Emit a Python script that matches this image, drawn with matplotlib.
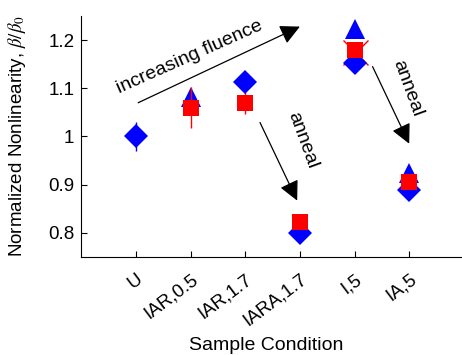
import numpy as np
import matplotlib
matplotlib.use('Agg')
import matplotlib.pyplot as plt

plt.rcParams['font.family'] = ['Liberation Sans', 'DejaVu Sans']
plt.rcParams['mathtext.fontset'] = 'stix'

# sample conditions along x
conditions = ['U', 'IAR,0.5', 'IAR,1.7', 'IARA,1.7', 'I,5', 'IA,5']
xpos = np.arange(1, len(conditions) + 1)

# blue diamonds (one per condition)
diamond_y = [1.0, np.nan, 1.114, 0.80, 1.152, 0.89]
diamond_err = [0.031, 0, 0, 0, 0, 0]

# blue triangles
tri_x = [2, 5, 6]
tri_y = [1.082, 1.222, 0.925]

# red squares with error bars
sq_x = [2, 3, 4, 5, 6]
sq_y = [1.06, 1.07, 0.823, 1.179, 0.905]
sq_lo = [0.042, 0.024, 0, 0.022, 0.018]
sq_hi = [0.042, 0.030, 0, 0.012, 0]

# red cross at I,5
x_x = [5]
x_y = [1.175]

fig = plt.figure(figsize=(4.62, 3.55), dpi=100)
ax = fig.add_axes([0.176, 0.276, 0.828, 0.679])

ax.errorbar(xpos, diamond_y, yerr=diamond_err, fmt='D', color='blue', ms=12,
            capsize=3, elinewidth=1, mew=0)
ax.plot(tri_x, tri_y, '^', color='blue', ms=14, mew=0)
ax.errorbar(sq_x, sq_y, yerr=[sq_lo, sq_hi], fmt='s', color='red', ms=11,
            capsize=3, elinewidth=1, mew=0)
ax.plot(x_x, x_y, 'x', color='red', ms=18, mew=1)

# annotation arrows
arrow_kw = dict(arrowstyle='-|>,head_length=1.2,head_width=0.6', color='black',
                lw=0.9, shrinkA=0, shrinkB=0)
ax.annotate('', xy=(4.0, 1.228), xytext=(1.04, 1.07), arrowprops=arrow_kw)
ax.annotate('', xy=(3.95, 0.867), xytext=(3.27, 1.029), arrowprops=arrow_kw)
ax.annotate('', xy=(6.0, 0.985), xytext=(5.33, 1.145), arrowprops=arrow_kw)

ax.text(1.99, 1.165, 'increasing fluence', rotation=24, ha='center', va='center',
        fontsize=14)
ax.text(4.05, 0.993, 'anneal', rotation=-70, ha='center', va='center', fontsize=14)
ax.text(5.96, 1.10, 'anneal', rotation=-70, ha='center', va='center', fontsize=14)

ax.set_xlim(0, 7)
ax.set_ylim(0.75, 1.25)
ax.set_xticks(xpos)
ax.set_xticklabels(conditions, rotation=37, ha='right', rotation_mode='anchor')
ax.set_yticks([0.8, 0.9, 1.0, 1.1, 1.2])
ax.set_yticklabels(['0.8', '0.9', '1', '1.1', '1.2'])
ax.tick_params(direction='in', labelsize=13.5, length=4, width=0.8)
ax.tick_params(axis='x', pad=10)
ax.tick_params(axis='y', pad=5)
ax.spines['top'].set_visible(False)
ax.spines['right'].set_visible(False)
ax.set_xlabel('Sample Condition', fontsize=14)
ax.xaxis.set_label_coords(0.483, -0.33)
ax.set_ylabel(r'Normalized Nonlinearity, $\beta/\beta_0$', fontsize=13.5)
ax.yaxis.set_label_coords(-0.14, 0.5)

fig.savefig('out.png', dpi=100)
